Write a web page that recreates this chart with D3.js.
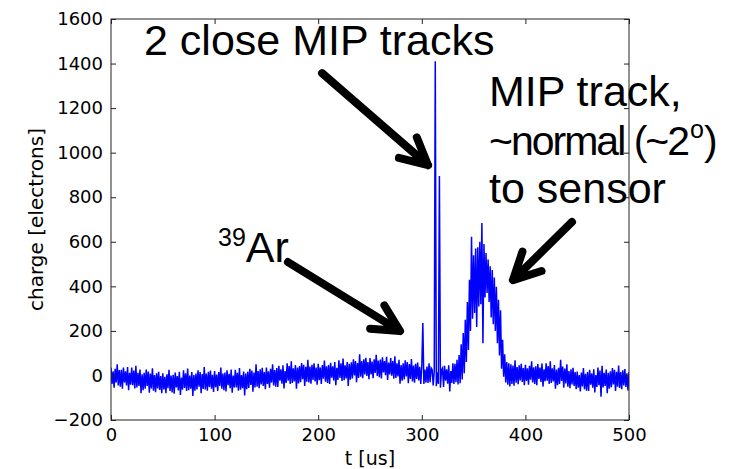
<!DOCTYPE html>
<html>
<head>
<meta charset="utf-8">
<script src="https://cdn.jsdelivr.net/npm/d3@7"></script>
<style>
  html, body { margin: 0; padding: 0; background: #fff; }
  svg { display: block; }
</style>
</head>
<body>
<svg id="chart" width="751" height="469"></svg>
<script>
// Sampled charge waveform, one sample per microsecond (t = 0 … 500 us)
const tStart = 0;
const tStep = 1;
const charge = [
  35,-38,19,-55,30,-32,50,-45,24,-51,
  25,-60,35,-32,19,-45,38,-66,12,-42,
  35,-44,22,-58,43,-54,12,-47,27,-80,
  5,-66,12,-60,26,-47,18,-77,9,-58,
  32,-69,2,-75,10,-58,16,-65,-3,-80,
  10,-63,-6,-80,5,-57,25,-70,-1,-76,
  3,-82,13,-54,-3,-67,16,-88,-10,-64,
  23,-56,10,-70,31,-66,0,-59,15,-92,
  2,-69,9,-63,23,-50,15,-80,6,-61,
  38,-63,8,-69,16,-52,22,-59,3,-74,
  20,-53,4,-70,15,-47,35,-60,9,-66,
  13,-72,23,-44,7,-57,26,-78,0,-54,
  25,-54,12,-68,33,-64,2,-57,17,-90,
  9,-62,16,-56,30,-43,22,-73,13,-54,
  50,-51,20,-57,28,-40,34,-47,15,-62,
  35,-38,19,-55,30,-32,50,-45,24,-51,
  33,-52,43,-24,27,-37,46,-58,20,-34,
  55,-24,42,-38,63,-34,32,-27,47,-60,
  35,-36,42,-30,56,-17,48,-47,39,-28,
  70,-31,40,-37,48,-20,54,-27,35,-42,
  52,-21,36,-38,47,-15,67,-28,41,-34,
  47,-38,57,-10,41,-23,60,-44,34,-20,
  68,-11,55,-25,76,-21,45,-14,60,-47,
  52,-19,59,-13,73,0,65,-30,56,-11,
  95,-6,65,-12,73,5,79,-2,60,-17,
  78,5,62,-12,73,11,93,-2,67,-8,
  71,-14,81,14,65,1,84,-20,58,4,
  78,-1,65,-15,86,-11,55,-4,70,-37,
  47,-24,54,-18,68,-5,60,-35,51,-16,
  74,-27,44,-33,52,-16,58,-23,39,-38,
  40,235,-38,26,-32,40,-34,55,-30,34,
  26,-45,18,1410,-48,14,-38,895,-55,24,
  33,-52,43,-24,27,-37,46,-72,20,-34,
  55,-38,52,-30,70,-40,92,-35,140,-18,
  190,10,250,60,330,114,430,200,623,255,
  540,280,570,218,575,310,600,320,684,145,
  590,350,549,370,520,330,490,260,473,230,
  440,200,398,145,340,90,293,30,160,-6,
  95,-32,60,-42,55,-50,50,-38,45,-46,
  68,-33,38,-39,46,-22,52,-29,33,-44,
  48,-25,32,-42,43,-19,63,-32,37,-38,
  41,-44,51,-16,35,-29,54,-50,28,-26,
  55,-24,42,-38,63,-34,32,-27,47,-60,
  27,-44,34,-38,70,-25,40,-55,31,-36,
  50,-51,20,-57,28,-40,34,-47,15,-62,
  18,-55,2,-72,13,-49,33,-62,7,-68,
  15,-70,25,-42,9,-55,28,-76,2,-52,
  35,-44,22,-95,43,-54,12,-47,27,-80,
  12,-59,19,-53,33,-40,25,-70,16,-51,
  45,-56,15,-62,23,-45,29,-52,10,-67,
  15
];

// Axis ticks
const xTicks = [0, 100, 200, 300, 400, 500];
const yTicks = [-200, 0, 200, 400, 600, 800, 1000, 1200, 1400, 1600];

// Annotation arrows: tail and tip in data units (t, charge)
const arrowTails = [[203.7, 1357], [170.8, 509], [445, 689]];
const arrowTips  = [[306, 944], [279, 199], [388, 428]];

const svg = d3.select("#chart");
const margin = { left: 111, right: 122, top: 19, bottom: 49 };
const W = 751, H = 469;

const x = d3.scaleLinear().domain([0, 500]).range([margin.left, W - margin.right]);
const y = d3.scaleLinear().domain([-200, 1600]).range([H - margin.bottom, margin.top]);

const tickFont = "'DejaVu Sans', sans-serif";

// waveform, clipped to the plotting box
svg.append("clipPath").attr("id", "plotClip")
  .append("rect")
  .attr("x", x(0)).attr("y", y(1600))
  .attr("width", x(500) - x(0)).attr("height", y(-200) - y(1600));

const samples = charge.map((v, i) => [tStart + i * tStep, v]);
const line = d3.line().x(d => x(d[0])).y(d => y(d[1]));

svg.append("path")
  .datum(samples)
  .attr("clip-path", "url(#plotClip)")
  .attr("d", line)
  .attr("fill", "none")
  .attr("stroke", "#0000ff")
  .attr("stroke-width", 1.5)
  .attr("stroke-linejoin", "miter");

// axes with inward ticks on all four sides
const tickLen = 5;
const styleAxis = g => {
  g.select(".domain").remove();
  g.selectAll(".tick line").attr("stroke", "#222");
  g.selectAll(".tick text").attr("fill", "#000")
    .style("font-family", tickFont).style("font-size", "18px");
};

svg.append("g")
  .attr("transform", `translate(0,${y(-200)})`)
  .call(d3.axisBottom(x).tickValues(xTicks).tickSize(-tickLen).tickPadding(8).tickFormat(d3.format("d")))
  .call(styleAxis);

svg.append("g")
  .attr("transform", `translate(0,${y(1600)})`)
  .call(d3.axisTop(x).tickValues(xTicks).tickSize(-tickLen).tickFormat(""))
  .call(styleAxis);

svg.append("g")
  .attr("transform", `translate(${x(0)},0)`)
  .call(d3.axisLeft(y).tickValues(yTicks).tickSize(-tickLen).tickPadding(8)
    .tickFormat(d => d < 0 ? "\u2212" + Math.abs(d) : String(d)))
  .call(styleAxis);

svg.append("g")
  .attr("transform", `translate(${x(500)},0)`)
  .call(d3.axisRight(y).tickValues(yTicks).tickSize(-tickLen).tickFormat(""))
  .call(styleAxis);

// frame
svg.append("rect")
  .attr("x", x(0)).attr("y", y(1600))
  .attr("width", x(500) - x(0)).attr("height", y(-200) - y(1600))
  .attr("fill", "none").attr("stroke", "#222").attr("stroke-width", 1);

// axis titles
svg.append("text")
  .attr("x", (x(0) + x(500)) / 2).attr("y", 465)
  .attr("text-anchor", "middle")
  .style("font-family", tickFont).style("font-size", "19px")
  .text("t [us]");

svg.append("text")
  .attr("transform", `translate(43,${(y(-200) + y(1600)) / 2}) rotate(-90)`)
  .attr("text-anchor", "middle")
  .style("font-family", tickFont).style("font-size", "20px")
  .text("charge [electrons]");

// annotation text
const annFont = "'Liberation Sans', Arial, sans-serif";
const ann = svg.append("g").style("font-family", annFont).style("font-size", "43px").attr("fill", "#000");

ann.append("text").attr("x", 144).attr("y", 55).text("2 close MIP tracks");

ann.append("text").attr("x", 489).attr("y", 106).text("MIP track,");

// second line with a superscript degree mark
const l2 = ann.append("text").attr("x", 489).attr("y", 155);
l2.append("tspan").style("font-size", "41px").style("letter-spacing", "-2px").text("~normal (~2");
l2.append("tspan").attr("dx", 2).attr("dy", -17).style("font-size", "25px").text("o");
l2.append("tspan").attr("dy", 17).style("font-size", "41px").text(")");

ann.append("text").attr("x", 489).attr("y", 203).text("to sensor");

const ar = ann.append("text").attr("x", 218).attr("y", 262);
ar.append("tspan").attr("dy", -16).style("font-size", "25px").text("39");
ar.append("tspan").attr("dy", 16).text("Ar");

// arrows: thick shaft with an open V head
const headLen = 30, headAng = 27 * Math.PI / 180;
arrowTails.forEach((tail, i) => {
  const x0 = x(tail[0]), y0 = y(tail[1]);
  const x1 = x(arrowTips[i][0]), y1 = y(arrowTips[i][1]);
  const a = Math.atan2(y0 - y1, x0 - x1);
  const b1 = [x1 + headLen * Math.cos(a + headAng), y1 + headLen * Math.sin(a + headAng)];
  const b2 = [x1 + headLen * Math.cos(a - headAng), y1 + headLen * Math.sin(a - headAng)];
  const p = d3.path();
  p.moveTo(x0, y0); p.lineTo(x1, y1);
  p.moveTo(b1[0], b1[1]); p.lineTo(x1, y1); p.lineTo(b2[0], b2[1]);
  svg.append("path").attr("d", p.toString())
    .attr("fill", "none").attr("stroke", "#000").attr("stroke-width", 8)
    .attr("stroke-linecap", "round").attr("stroke-linejoin", "round");
});
</script>
</body>
</html>
